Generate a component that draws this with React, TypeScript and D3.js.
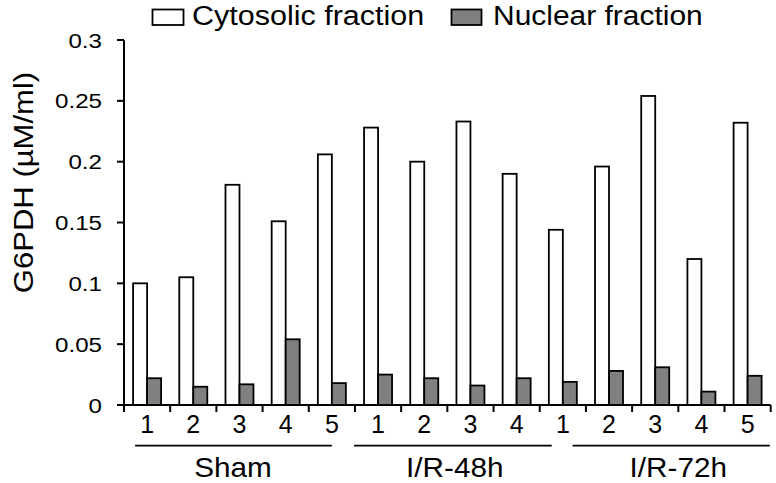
import React from "react";
import * as d3 from "d3";

const categories = ["1", "2", "3", "4", "5", "1", "2", "3", "4", "1", "2", "3", "4", "5"];
const cytosolic = [0.1, 0.105, 0.181, 0.151, 0.206, 0.228, 0.2, 0.233, 0.19, 0.144, 0.196, 0.254, 0.12, 0.232];
const nuclear = [0.022, 0.015, 0.017, 0.054, 0.018, 0.025, 0.022, 0.016, 0.022, 0.019, 0.028, 0.031, 0.011, 0.024];
const seriesNames = ["Cytosolic fraction", "Nuclear fraction"];
const groupNames = ["Sham", "I/R-48h", "I/R-72h"];
const yTicks = [0, 0.05, 0.1, 0.15, 0.2, 0.25, 0.3];
const yTickLabels = ["0", "0.05", "0.1", "0.15", "0.2", "0.25", "0.3"];

// layout (category units) for group underlines and labels
const groupLineSpans: [number, number][] = [[0.24, 4.5], [4.98, 9.26], [9.71, 13.98]];
const groupLabelCenters = [2.36, 7.16, 12.0];

const W = 776, H = 483;
const FONT = "'Liberation Sans', Arial, sans-serif";

function SText({ x, y, sx = 1, size, anchor = "start", dy, children }: any) {
  return (
    <text transform={`translate(${x},${y}) scale(${sx},1)`} textAnchor={anchor} fontSize={size} dy={dy} fill="#000">
      {children}
    </text>
  );
}

export default function App() {
  const x0 = 124, x1 = 770.7, yTop = 40, yBot = 405;
  const idx = categories.map((_, i) => i);
  const x = d3.scaleBand<number>().domain(idx).range([x0, x1]).paddingInner(0).paddingOuter(0);
  const xs = d3.scaleBand<number>().domain([0, 1]).range([0, x.bandwidth()]).paddingInner(0).paddingOuter(0.65);
  const y = d3.scaleLinear().domain([0, 0.3]).range([yBot, yTop]);
  const cu = d3.scaleLinear().domain([0, categories.length]).range([x0, x1]);
  const series = [cytosolic, nuclear];
  const fills = ["#ffffff", "#808080"];

  return (
    <svg width={W} height={H} style={{ position: "absolute", left: 0, top: 0, background: "#fff" }} fontFamily={FONT}>
      {/* legend */}
      <g>
        <rect x={152.5} y={9.5} width={31} height={15.5} fill={fills[0]} stroke="#000" strokeWidth={1.8} />
        <SText x={192} y={25} size={28} sx={1.09}>{seriesNames[0]}</SText>
        <rect x={451.5} y={9.5} width={30} height={15.5} fill={fills[1]} stroke="#000" strokeWidth={1.8} />
        <SText x={493} y={25} size={28} sx={1.07}>{seriesNames[1]}</SText>
      </g>
      {/* y title */}
      <text transform={`translate(33,${(yTop + yBot) / 2 - 40}) rotate(-90) scale(1.15,1)`} textAnchor="middle" fontSize={27} fill="#000">
        G6PDH (µM/ml)
      </text>
      {/* bars */}
      {series.map((vals, s) =>
        vals.map((v, i) => (
          <rect key={`${s}-${i}`} x={(x(i) as number) + (xs(s) as number)} y={y(v)} width={xs.bandwidth()} height={yBot - y(v)}
            fill={fills[s]} stroke="#000" strokeWidth={1.8} />
        ))
      )}
      {/* y axis */}
      <line x1={x0} x2={x0} y1={yTop} y2={yBot + 7} stroke="#000" strokeWidth={2} />
      {yTicks.map((t, i) => (
        <g key={t}>
          <line x1={x0 - 7} x2={x0} y1={y(t)} y2={y(t)} stroke="#000" strokeWidth={2} />
          <SText x={102} y={y(t)} dy="0.36em" anchor="end" size={21} sx={1.15}>{yTickLabels[i]}</SText>
        </g>
      ))}
      {/* x axis */}
      <line x1={x0 - 7} x2={x1} y1={yBot} y2={yBot} stroke="#000" strokeWidth={2} />
      {d3.range(categories.length + 1).map((i) => (
        <line key={i} x1={cu(i)} x2={cu(i)} y1={yBot} y2={yBot + 7} stroke="#000" strokeWidth={2} />
      ))}
      {categories.map((c, i) => (
        <text key={i} x={(x(i) as number) + x.bandwidth() / 2} y={433} textAnchor="middle" fontSize={25} fill="#000">{c}</text>
      ))}
      {/* groups */}
      {groupNames.map((g, i) => (
        <g key={g}>
          <line x1={cu(groupLineSpans[i][0])} x2={cu(groupLineSpans[i][1])} y1={445.7} y2={445.7} stroke="#000" strokeWidth={1.8} />
          <SText x={cu(groupLabelCenters[i])} y={477} anchor="middle" size={27} sx={1.1}>{g}</SText>
        </g>
      ))}
    </svg>
  );
}
